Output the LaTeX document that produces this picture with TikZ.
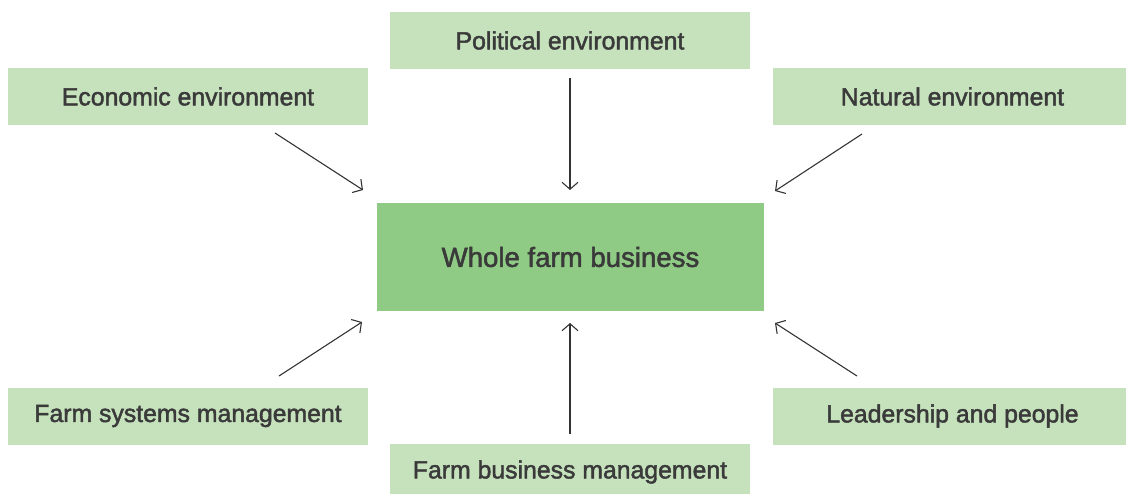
\documentclass[tikz,border=0pt]{standalone}
\usepackage{fontspec}
\setmainfont{Liberation Sans}[FakeBold=1.8]
\usetikzlibrary{arrows.meta}
\definecolor{lightg}{HTML}{C6E2BD}
\definecolor{midg}{HTML}{8FCB85}
\definecolor{txt}{HTML}{3A3A3A}
\definecolor{arr}{HTML}{333333}
\tikzset{
  outer/.style={fill=lightg, draw=none, inner sep=0pt, minimum width=360pt, minimum height=57pt, text=txt, font=\fontsize{24.8}{28}\selectfont},
  core/.style={fill=midg, draw=none, inner sep=0pt, minimum width=387pt, minimum height=108pt, text=txt, font=\fontsize{27.6}{32}\selectfont},
  conn/.style={draw=arr, line width=1.1pt, -{Straight Barb[length=7pt,width=16pt,line width=1.1pt]}}
}
\begin{document}
\begin{tikzpicture}[x=1pt,y=-1pt]
\useasboundingbox (0,0) rectangle (1126,493);
\clip (0,0) rectangle (1126,493);
\node[outer] (pol) at (570,40.5) {Political environment};
\node[outer] (eco) at (188,96.5) {Economic environment};
\node[outer, minimum width=359pt] (nat) at (952.5,96.5) {Natural environment};
\node[core] (whole) at (570.5,257) {Whole farm business};
\node[outer] (fsm) at (188,416) {Farm systems management};
\node[outer, minimum width=359pt] (lead) at (952.5,416) {Leadership and people};
\node[outer] (fbm) at (570,472) {Farm business management};
\coordinate (eco-s) at (275,133);
\coordinate (eco-e) at (363,190);
\coordinate (pol-s) at (570,78);
\coordinate (pol-e) at (570,190);
\coordinate (nat-s) at (862,134);
\coordinate (nat-e) at (775,191);
\coordinate (fsm-s) at (279,376);
\coordinate (fsm-e) at (362,322);
\coordinate (fbm-s) at (570,434);
\coordinate (fbm-e) at (570,323);
\coordinate (lead-s) at (857,376);
\coordinate (lead-e) at (775,323);
\draw[conn] (eco-s) -- (eco-e);
\draw[conn] (pol-s) -- (pol-e);
\draw[conn] (nat-s) -- (nat-e);
\draw[conn] (fsm-s) -- (fsm-e);
\draw[conn] (fbm-s) -- (fbm-e);
\draw[conn] (lead-s) -- (lead-e);
\end{tikzpicture}
\end{document}
